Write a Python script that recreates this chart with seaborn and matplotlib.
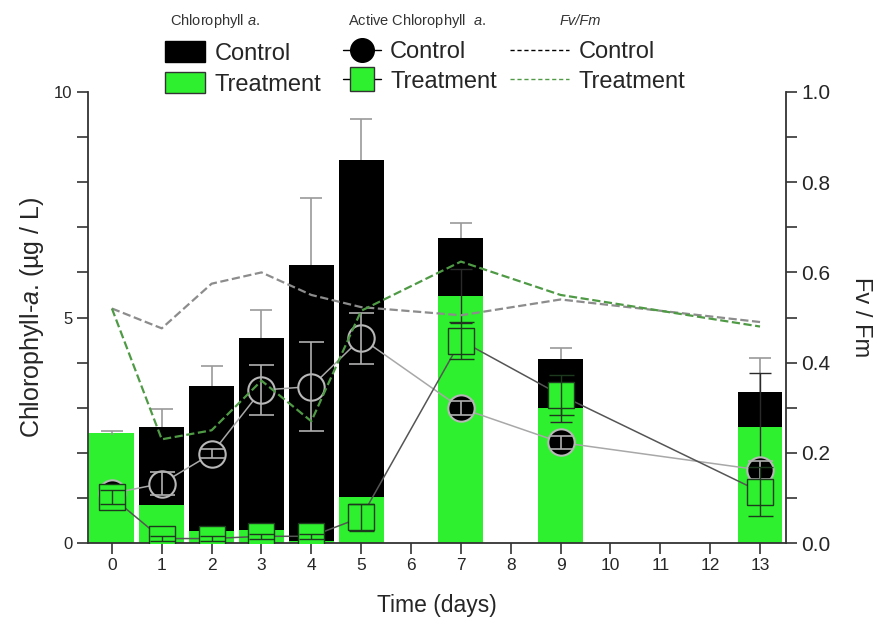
import numpy as np
import pandas as pd
import matplotlib
matplotlib.use("Agg")
import matplotlib.pyplot as plt
import seaborn as sns
from matplotlib.patches import Patch
from matplotlib.lines import Line2D
from matplotlib.ticker import MultipleLocator

# Sampling days
days = [0, 1, 2, 3, 4, 5, 7, 9, 13]
tick_days = list(range(14))

# Chlorophyll a (ug/L): bars
chl_control = [2.40, 2.58, 3.49, 4.54, 6.17, 8.49, 6.76, 4.09, 3.35]
chl_control_err = [0.09, 0.40, 0.44, 0.62, 1.48, 0.92, 0.34, 0.23, 0.75]
chl_treatment = [2.43, 0.84, 0.27, 0.28, 0.05, 1.03, 5.47, 2.99, 2.58]
chl_treatment_err = [0.0, 0.0, 0.0, 0.0, 0.0, 0.0, 0.60, 0.30, 1.19]

# Active chlorophyll a (ug/L): markers
active_control = [1.10, 1.32, 1.98, 3.39, 3.47, 4.54, 2.99, 2.23, 1.62]
active_control_err = [0.12, 0.25, 0.10, 0.55, 0.98, 0.57, 0.15, 0.15, 0.20]
active_treatment = [1.02, 0.10, 0.10, 0.15, 0.15, 0.57, 4.49, 3.28, 1.14]
active_treatment_err = [0.15, 0.05, 0.05, 0.05, 0.05, 0.30, 0.40, 0.45, 0.55]

# Photosynthetic efficiency Fv/Fm
fvfm_control = [0.52, 0.476, 0.575, 0.60, 0.55, 0.523, 0.505, 0.54, 0.49]
fvfm_treatment = [0.52, 0.23, 0.25, 0.36, 0.27, 0.515, 0.624, 0.55, 0.48]

GREEN = "#2ef02e"

df = pd.DataFrame({
    "day": days,
    "chl_control": chl_control,
    "chl_treatment": chl_treatment,
    "active_control": active_control,
    "active_treatment": active_treatment,
    "fvfm_control": fvfm_control,
    "fvfm_treatment": fvfm_treatment,
})

sns.set_style("ticks")
plt.rcParams["font.family"] = ["Liberation Sans", "DejaVu Sans"]
plt.rcParams["mathtext.fontset"] = "custom"
plt.rcParams["mathtext.rm"] = "Liberation Sans"
plt.rcParams["mathtext.it"] = "Liberation Sans:italic"

fig = plt.figure(figsize=(8.77, 6.30), dpi=100)
ax = fig.add_axes([0.1003, 0.138, 0.7959, 0.716])

# Bars: control behind, treatment in front
sns.barplot(data=df, x="day", y="chl_control", native_scale=True, width=0.9,
            color="black", saturation=1, errorbar=None, linewidth=0, ax=ax)
_, caps, _ = ax.errorbar(days, chl_control, yerr=[np.zeros(len(days)), chl_control_err],
                         fmt="none", ecolor="#9a9a9a", elinewidth=1.2, capsize=8,
                         capthick=1.2, zorder=2)
caps[0].set_visible(False)  # only the upper half of the control error bars
sns.barplot(data=df, x="day", y="chl_treatment", native_scale=True, width=0.9,
            color=GREEN, saturation=1, errorbar=None, linewidth=0, ax=ax)
t_idx = [i for i, e in enumerate(chl_treatment_err) if e > 0]
ax.errorbar([days[i] for i in t_idx], [chl_treatment[i] for i in t_idx],
            yerr=[chl_treatment_err[i] for i in t_idx],
            fmt="none", ecolor="#2a2a2a", elinewidth=1.0, capsize=8, capthick=1.0, zorder=3)

# Active chlorophyll: control circles
sns.lineplot(data=df, x="day", y="active_control", ax=ax, color="#a8a8a8", lw=1.1,
             marker="o", markersize=19, markerfacecolor="black",
             markeredgecolor="#b8b8b8", markeredgewidth=1.5, zorder=4)
ax.errorbar(days, active_control, yerr=active_control_err, fmt="none",
            ecolor="#b0b0b0", elinewidth=1.2, capsize=9, capthick=1.2, zorder=5)

# Active chlorophyll: treatment squares
sns.lineplot(data=df, x="day", y="active_treatment", ax=ax, color="#555555", lw=1.1,
             marker="s", markersize=19, markerfacecolor=GREEN,
             markeredgecolor="#1e3a1e", markeredgewidth=1.0, zorder=6)
ax.errorbar(days, active_treatment, yerr=active_treatment_err, fmt="none",
            ecolor="#1e3a1e", elinewidth=1.0, capsize=9, capthick=1.0, zorder=7)

ax.set_xlim(-0.48, 13.52)
ax.set_ylim(0, 10)
ax.set_xticks(tick_days)
ax.set_xticklabels([str(d) for d in tick_days])
ax.set_yticks([0, 5, 10])
ax.yaxis.set_minor_locator(MultipleLocator(1))
ax.tick_params(axis="both", which="both", direction="out", length=8, width=1.2,
               color="#333333", labelsize=12, pad=3)
ax.tick_params(axis="x", labelsize=12.5)
ax.set_xlabel("Time (days)", fontsize=16.5, labelpad=15)
ax.set_ylabel("Chlorophyll-$\\it{a}$. (µg / L)", fontsize=18, labelpad=6)
for s in ["left", "bottom"]:
    ax.spines[s].set_linewidth(1.3)
    ax.spines[s].set_color("#333333")
ax.spines["top"].set_visible(False)
ax.spines["right"].set_visible(False)

# Fv/Fm on the secondary axis
ax2 = ax.twinx()
sns.lineplot(data=df, x="day", y="fvfm_control", ax=ax2, color="#8c8c8c",
             linestyle="--", lw=1.6, zorder=3)
sns.lineplot(data=df, x="day", y="fvfm_treatment", ax=ax2, color="#4f9a45",
             linestyle="--", lw=1.6, zorder=3)
ax2.set_ylim(0, 1)
ax2.set_yticks(np.arange(0, 1.01, 0.2))
ax2.set_yticklabels([f"{v:.1f}" for v in np.arange(0, 1.01, 0.2)])
ax2.yaxis.set_minor_locator(MultipleLocator(0.1))
ax2.tick_params(axis="y", which="both", direction="out", length=8, width=1.2,
                color="#333333", labelsize=15, pad=3)
ax2.set_ylabel("Fv / Fm", fontsize=17, rotation=270, va="bottom", labelpad=14)
ax2.spines["right"].set_linewidth(1.3)
ax2.spines["right"].set_color("#333333")
for s in ["top", "left", "bottom"]:
    ax2.spines[s].set_visible(False)
ax2.set_xlim(-0.48, 13.52)

# Legends: three groups above the plot
leg_kw = dict(loc="upper left", frameon=False, fontsize=17, borderpad=0,
              borderaxespad=0, labelspacing=0.32, handletextpad=0.4)
h1 = [Patch(facecolor="black", edgecolor="black"),
      Patch(facecolor=GREEN, edgecolor="#333333", linewidth=1.0)]
fig.legend(h1, ["Control", "Treatment"], bbox_to_anchor=(165 / 877, 1 - 41 / 630),
           handlelength=1.7, handleheight=1.0, **leg_kw)
h2 = [Line2D([0], [0], color="black", lw=1, marker="o", markersize=17,
             markerfacecolor="black", markeredgecolor="black"),
      Line2D([0], [0], color="black", lw=1, marker="s", markersize=17,
             markerfacecolor=GREEN, markeredgecolor="#333333")]
fig.legend(h2, ["Control", "Treatment"], bbox_to_anchor=(343 / 877, 1 - 41 / 630),
           handlelength=1.6, **leg_kw)
h3 = [Line2D([0], [0], color="black", lw=1, ls=(0, (3, 2))),
      Line2D([0], [0], color="#4f9a45", lw=1, ls=(0, (3, 2)))]
fig.legend(h3, ["Control", "Treatment"], bbox_to_anchor=(510 / 877, 1 - 41 / 630),
           handlelength=2.5, **leg_kw)

fig.text(215 / 877, 1 - 21 / 630, "Chlorophyll $\\it{a}$.", ha="center", va="center",
         fontsize=10.5, color="#333333")
fig.text(417 / 877, 1 - 21 / 630, "Active Chlorophyll  $\\it{a}$.", ha="center",
         va="center", fontsize=10.5, color="#333333")
fig.text(580 / 877, 1 - 21 / 630, "Fv/Fm", ha="center", va="center",
         fontsize=10.5, color="#333333", fontstyle="italic")

fig.savefig("out.png", dpi=100)
